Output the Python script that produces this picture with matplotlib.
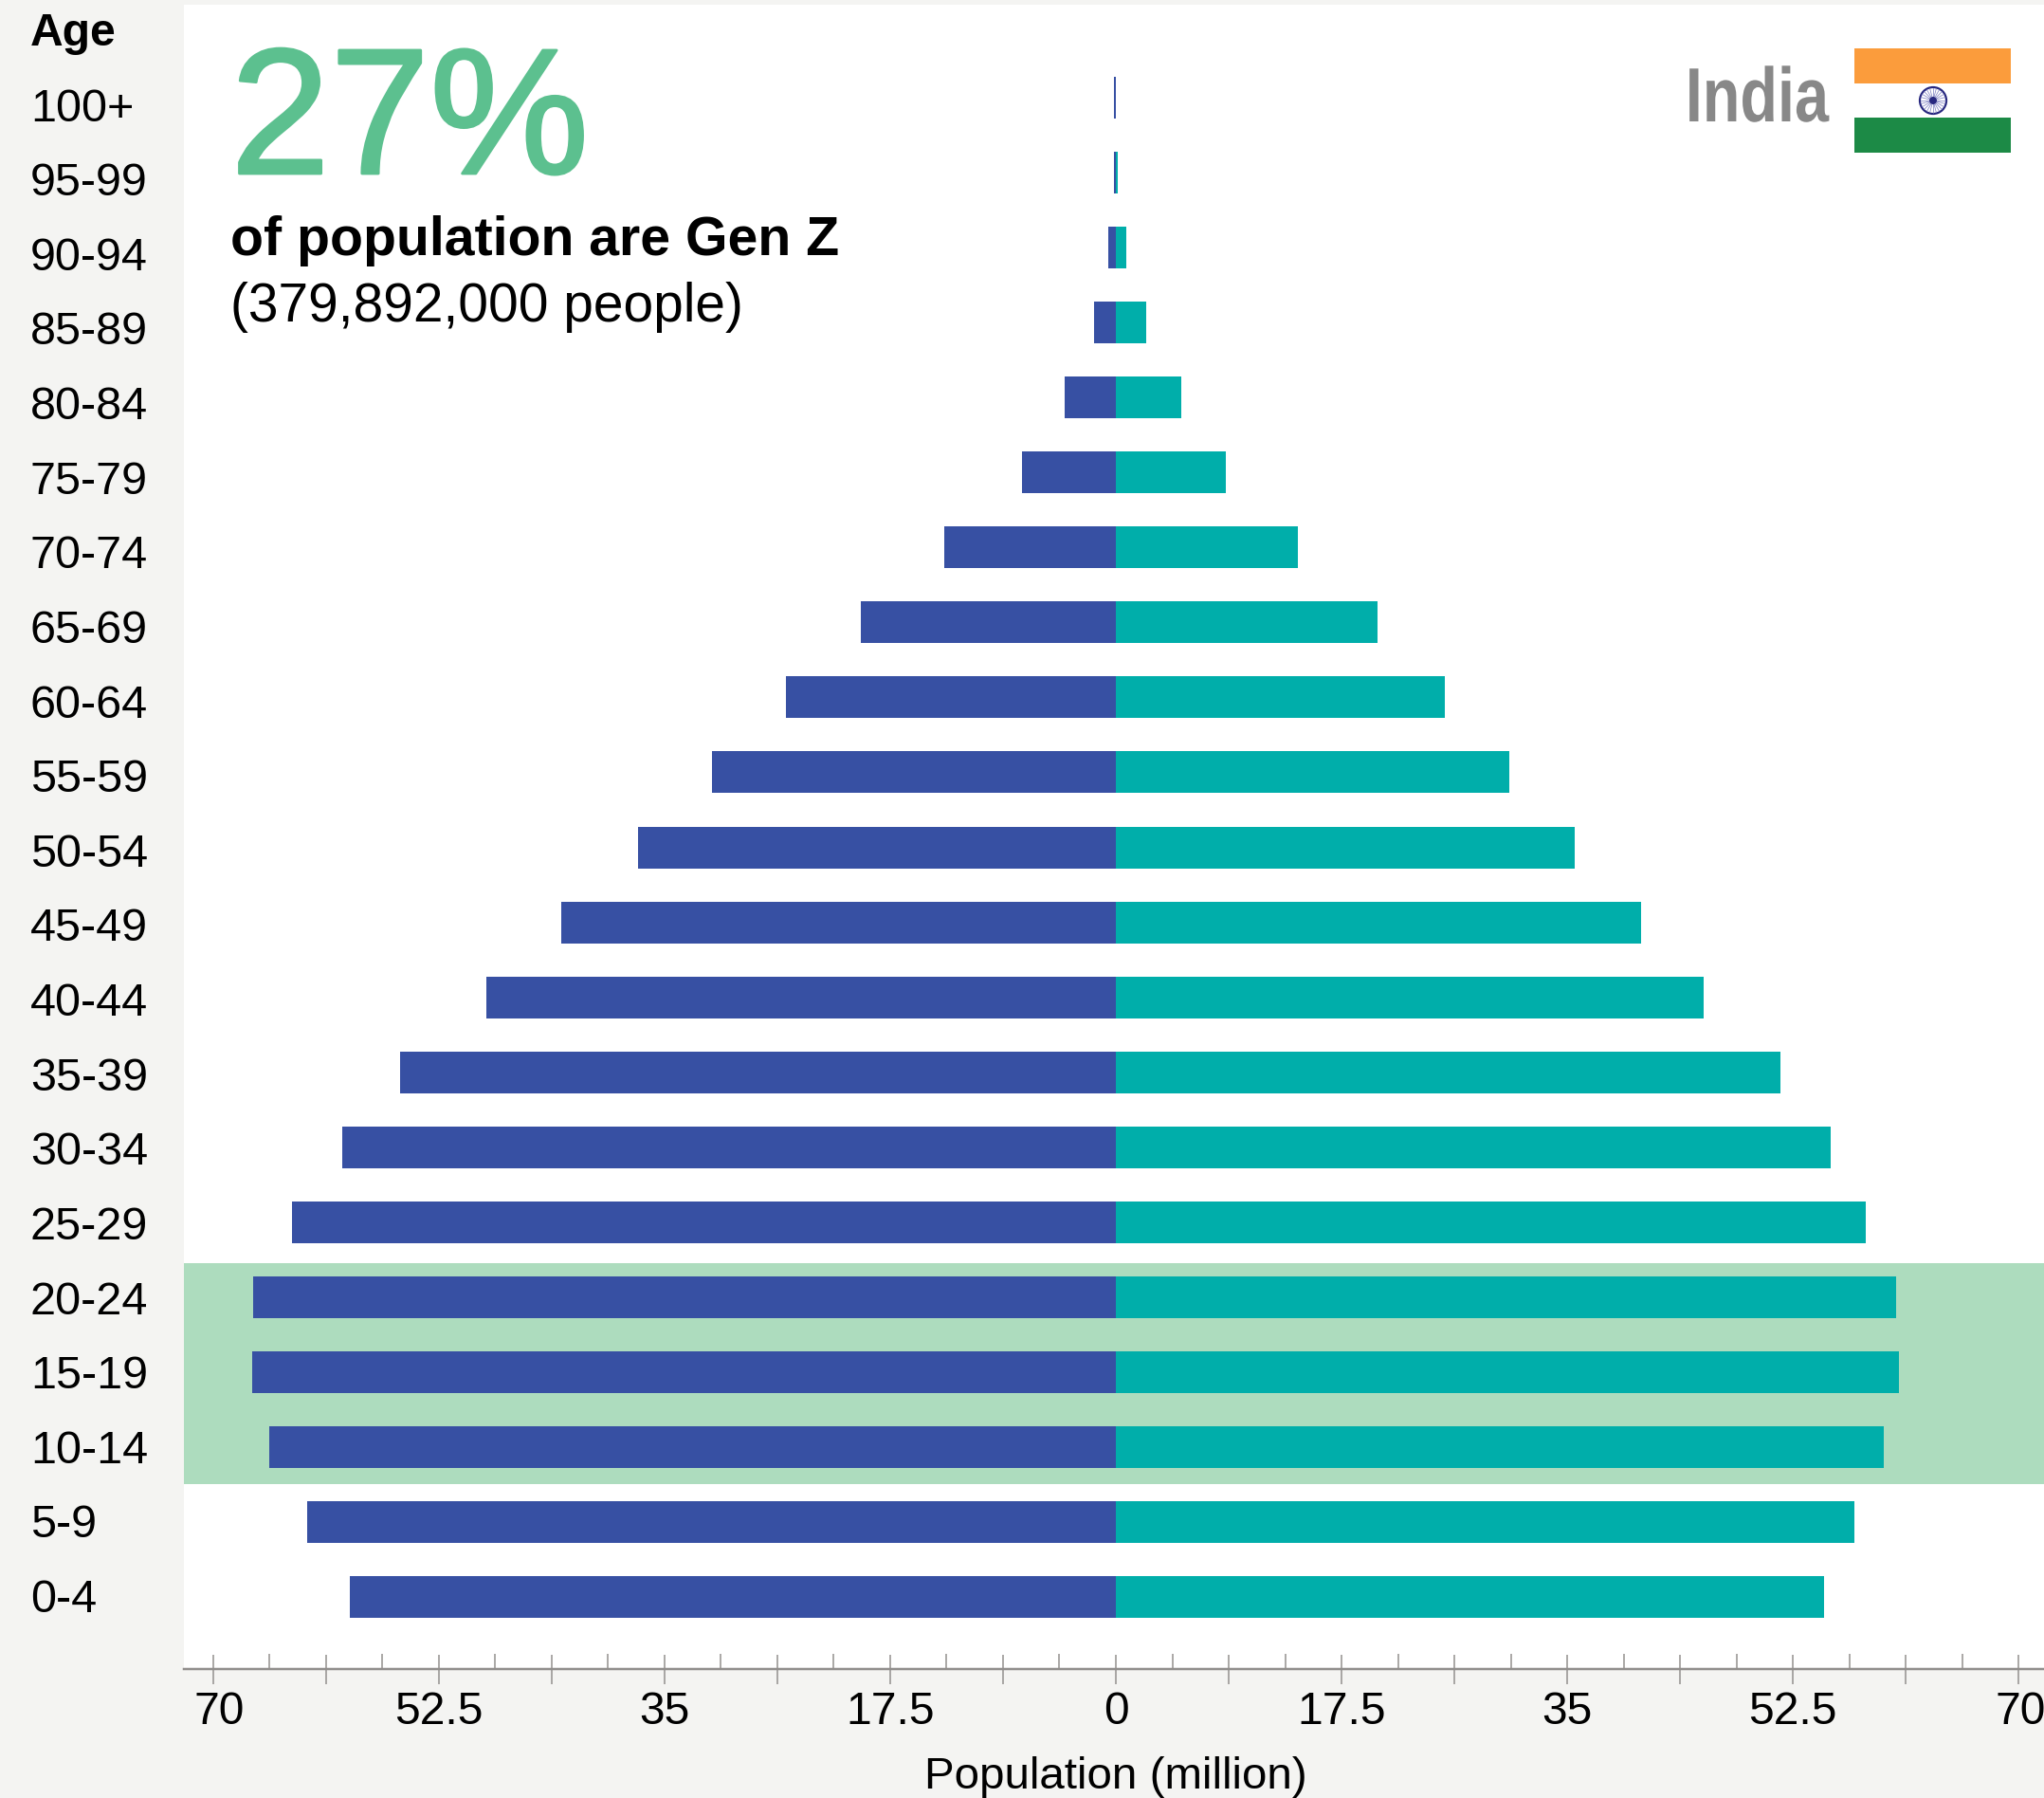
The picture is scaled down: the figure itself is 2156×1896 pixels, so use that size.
import numpy as np
import matplotlib
matplotlib.use("Agg")
import matplotlib.pyplot as plt
import matplotlib.patheffects as pe
import matplotlib.transforms as mtrans
from matplotlib.patches import Rectangle, Circle

#### Data, youngest group first
ages = ["0-4","5-9","10-14","15-19","20-24","25-29","30-34","35-39","40-44","45-49",
        "50-54","55-59","60-64","65-69","70-74","75-79","80-84","85-89","90-94","95-99","100+"]
male = [59.4,62.7,65.6,66.95,66.9,63.9,60.0,55.5,48.8,43.0,
        37.05,31.3,25.6,19.8,13.3,7.3,4.0,1.69,0.59,0.15,0.12]
female = [54.9,57.25,59.5,60.7,60.5,58.1,55.4,51.5,45.6,40.7,
          35.6,30.5,25.5,20.3,14.1,8.5,5.1,2.35,0.81,0.15,0.0]
major_ticks = [-70,-61.25,-52.5,-43.75,-35,-26.25,-17.5,-8.75,0,8.75,17.5,26.25,35,43.75,52.5,61.25,70]
major_labels = ["70","","52.5","","35","","17.5","","0","","17.5","","35","","52.5","","70"]
minor_ticks = [-65.625,-56.875,-48.125,-39.375,-30.625,-21.875,-13.125,-4.375,
               4.375,13.125,21.875,30.625,39.375,48.125,56.875,65.625]

W, H = 2156, 1896
DPI = 100
BG = "#f4f4f2"
NAVY = "#3750a3"
TEAL = "#00aeaa"
HILITE = "#addcbe"
BIGGREEN = "#5cc08f"
AXGREY = "#918e8c"
PT = 72.0 / DPI     # px to points

plt.rcParams['font.family'] = ['Liberation Sans', 'DejaVu Sans']

def fx(px): return px / W
def fy(py): return 1 - py / H

class Squeeze(pe.AbstractPathEffect):
    # no condensed font here, so narrow the real text sideways about one x
    def __init__(self, sx, xpx):
        super().__init__()
        self.sx = sx
        self.xpx = xpx
    def draw_path(self, renderer, gc, tpath, affine, rgbFace=None):
        a = affine + mtrans.Affine2D().translate(-self.xpx, 0).scale(self.sx, 1).translate(self.xpx, 0)
        renderer.draw_path(gc, tpath, a, rgbFace)

fig = plt.figure(figsize=(W / DPI, H / DPI), dpi=DPI, facecolor=BG)

# white panel, pixel box 194..2156 x 5..1760
ax = fig.add_axes([fx(194), fy(1760), fx(2156) - fx(194), fy(5) - fy(1760)], facecolor="white")
X0 = 1177.0         # px of zero
SX = 13.607         # px per million
Y0 = 1684.0         # px of first bar centre
SY = 79.05          # px per age group
ax.set_xlim((194 - X0) / SX, (2156 - X0) / SX)
ax.set_ylim((Y0 - 1760) / SY, (Y0 - 5) / SY)

ypos = np.arange(len(ages))
bar_h = 44 / SY
ax.axhspan((Y0 - 1565) / SY, (Y0 - 1332) / SY, facecolor=HILITE, edgecolor="none", zorder=1)
ax.barh(ypos, -np.array(male), height=bar_h, color=NAVY, linewidth=0, zorder=2)
ax.barh(ypos, female, height=bar_h, color=TEAL, linewidth=0, zorder=2)

for s in ["top", "left", "right"]:
    ax.spines[s].set_visible(False)
ax.spines["bottom"].set_color(AXGREY)
ax.spines["bottom"].set_linewidth(2.5 * PT)

# Age labels, left aligned out in the margin. Their spacing is a bit tighter than the bars
ax.set_yticks(ypos)
ax.set_yticklabels(ages, fontsize=48.5 * PT, ha="left", color="black")
ax.tick_params(axis="y", length=0, pad=(194 - 32) * PT)
for i, lab in enumerate(ax.get_yticklabels()):
    lab.set_transform(lab.get_transform() + mtrans.ScaledTranslation(0, (1.5 - 0.43 * i) / DPI, fig.dpi_scale_trans))

ax.set_xticks(major_ticks)
ax.set_xticklabels(major_labels, fontsize=48 * PT, color="black")
ax.set_xticks(minor_ticks, minor=True)
ax.tick_params(axis="x", which="major", direction="inout", length=31 * PT, width=1.5 * PT,
               color=AXGREY, pad=7 * PT)
ax.tick_params(axis="x", which="minor", direction="in", length=16 * PT, width=1.5 * PT, color=AXGREY)
# the two end labels sit slightly off their ticks
tl = ax.get_xticklabels()
tl[0].set_transform(tl[0].get_transform() + mtrans.ScaledTranslation(7 / DPI, 0, fig.dpi_scale_trans))
tl[-1].set_transform(tl[-1].get_transform() + mtrans.ScaledTranslation(2 / DPI, 0, fig.dpi_scale_trans))
ax.set_xlabel("Population (million)", fontsize=47.5 * PT, labelpad=24 * PT, color="black")
ax.xaxis.label.set_x(0.5 + 2 / 1962)

fig.text(fx(32), fy(48), "Age", fontsize=48 * PT, fontweight="bold", va="baseline")

t = fig.text(fx(243), fy(183), "27%", fontsize=189 * PT, color=BIGGREEN, va="baseline")
t.set_path_effects([pe.withStroke(linewidth=2, foreground=BIGGREEN)])
fig.text(fx(243), fy(269), "of population are Gen Z", fontsize=57.3 * PT, fontweight="bold", va="baseline")
fig.text(fx(243), fy(339), "(379,892,000 people)", fontsize=56.9 * PT, va="baseline")

t = fig.text(fx(1929), fy(128), "India", fontsize=81 * PT, fontweight="bold", color="#888888",
             ha="right", va="baseline")
t.set_path_effects([Squeeze(0.80, 1929)])

# flag, pixel coordinates
flag = fig.add_axes([fx(1956), fy(161), fx(2121) - fx(1956), fy(51) - fy(161)])
flag.set_xlim(1956, 2121)
flag.set_ylim(161, 51)
flag.axis("off")
flag.add_patch(Rectangle((1956, 51), 165, 37, facecolor="#fb9c3c", linewidth=0))
flag.add_patch(Rectangle((1956, 124), 165, 37, facecolor="#1c8a46", linewidth=0))
flag.add_patch(Circle((2039, 106), 14, facecolor="white", edgecolor="#27277f", linewidth=2.2 * PT))
for a in np.arange(24) * np.pi / 12:
    flag.plot([2039, 2039 + 13 * np.cos(a)], [106, 106 + 13 * np.sin(a)], color="#7a7cc0", lw=0.5)
flag.add_patch(Circle((2039, 106), 4, facecolor="#27277f", linewidth=0, zorder=3))

fig.savefig("out.png", dpi=DPI, facecolor=BG)
